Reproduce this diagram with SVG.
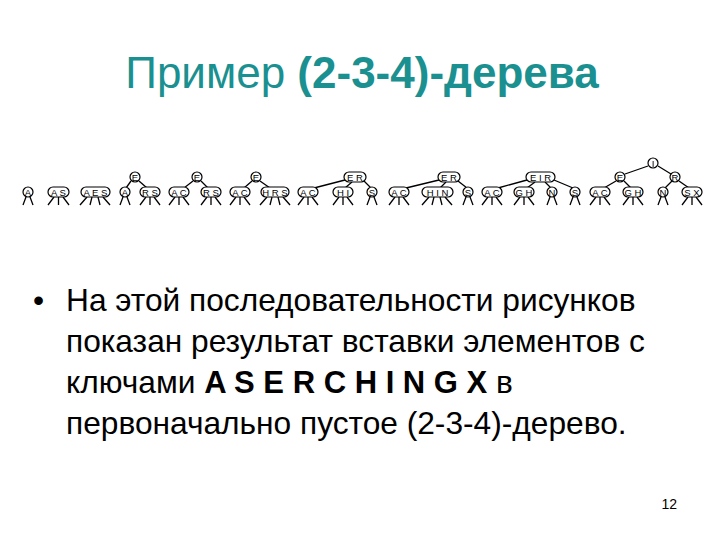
<svg xmlns="http://www.w3.org/2000/svg" width="720" height="540" viewBox="0 0 720 540">
<style>
.n{fill:#fff;stroke:#000;stroke-width:1.2}
.k{font-family:"Liberation Sans",Arial,sans-serif;font-size:9.5px;text-anchor:middle;fill:#000}
.c line{stroke:#000;stroke-width:1.3}
.t{font-family:"Liberation Sans",Arial,sans-serif;fill:#000}
</style>
<rect width="720" height="540" fill="#fff"/>
<text x="362" y="88" class="t" font-size="44" text-anchor="middle" style="fill:#1a9090">Пример <tspan font-weight="bold">(2-3-4)-дерева</tspan></text>

<g class="c" id="connectors">
<!-- tree4 -->
<line x1="131" y1="181" x2="126" y2="188"/><line x1="139" y1="181" x2="147" y2="188"/>
<!-- tree5 -->
<line x1="193" y1="181" x2="184" y2="188"/><line x1="201" y1="181" x2="208" y2="188"/>
<!-- tree6 -->
<line x1="252" y1="181" x2="244" y2="188"/><line x1="260" y1="181" x2="270" y2="188"/>
<!-- tree7 -->
<line x1="345" y1="180" x2="314" y2="188"/><line x1="352" y1="182" x2="345" y2="188"/><line x1="364" y1="181" x2="371" y2="188"/>
<!-- tree8 -->
<line x1="439" y1="180" x2="406" y2="188"/><line x1="446" y1="182" x2="440" y2="188"/><line x1="458" y1="181" x2="467" y2="188"/>
<!-- tree9 -->
<line x1="527" y1="180" x2="498" y2="188"/><line x1="535" y1="182" x2="527" y2="188"/><line x1="545" y1="182" x2="551" y2="188"/><line x1="554" y1="180" x2="573" y2="188"/>
<!-- tree10 -->
<line x1="648" y1="166" x2="625" y2="174"/><line x1="658" y1="166" x2="671" y2="174"/>
<line x1="616" y1="181" x2="604" y2="188"/><line x1="624" y1="181" x2="631" y2="188"/>
<line x1="672" y1="181" x2="665" y2="188"/><line x1="679" y1="181" x2="689" y2="188"/>
<!-- leaf legs -->
<g id="legs">
<line x1="26" y1="197" x2="23" y2="205"/><line x1="30" y1="197" x2="33" y2="205"/>
<line x1="54" y1="197" x2="48" y2="205"/><line x1="58.5" y1="197" x2="58.5" y2="205"/><line x1="63" y1="197" x2="69" y2="205"/>
<line x1="87" y1="197" x2="80" y2="205"/><line x1="92" y1="197" x2="90" y2="205"/><line x1="98" y1="197" x2="100" y2="205"/><line x1="103" y1="197" x2="110" y2="205"/>
<line x1="123" y1="197" x2="120" y2="205"/><line x1="127" y1="197" x2="130" y2="205"/>
<line x1="146" y1="197" x2="140" y2="205"/><line x1="150" y1="197" x2="150" y2="205"/><line x1="154" y1="197" x2="160" y2="205"/>
<line x1="175" y1="197" x2="169" y2="205"/><line x1="179" y1="197" x2="179" y2="205"/><line x1="183" y1="197" x2="189" y2="205"/>
<line x1="207" y1="197" x2="201" y2="205"/><line x1="211" y1="197" x2="211" y2="205"/><line x1="215" y1="197" x2="221" y2="205"/>
<line x1="236" y1="197" x2="230" y2="205"/><line x1="240" y1="197" x2="240" y2="205"/><line x1="244" y1="197" x2="250" y2="205"/>
<line x1="267" y1="197" x2="260" y2="205"/><line x1="272" y1="197" x2="270" y2="205"/><line x1="278" y1="197" x2="280" y2="205"/><line x1="283" y1="197" x2="290" y2="205"/>
<line x1="304" y1="197" x2="298" y2="205"/><line x1="308" y1="197" x2="308" y2="205"/><line x1="312" y1="197" x2="318" y2="205"/>
<line x1="339" y1="197" x2="333" y2="205"/><line x1="343" y1="197" x2="343" y2="205"/><line x1="347" y1="197" x2="353" y2="205"/>
<line x1="370" y1="197" x2="367" y2="205"/><line x1="374" y1="197" x2="377" y2="205"/>
<line x1="395" y1="197" x2="389" y2="205"/><line x1="399" y1="197" x2="399" y2="205"/><line x1="403" y1="197" x2="409" y2="205"/>
<line x1="429" y1="197" x2="422" y2="205"/><line x1="434" y1="197" x2="432" y2="205"/><line x1="440" y1="197" x2="442" y2="205"/><line x1="445" y1="197" x2="452" y2="205"/>
<line x1="466" y1="197" x2="463" y2="205"/><line x1="470" y1="197" x2="473" y2="205"/>
<line x1="488" y1="197" x2="482" y2="205"/><line x1="492" y1="197" x2="492" y2="205"/><line x1="496" y1="197" x2="502" y2="205"/>
<line x1="520" y1="197" x2="514" y2="205"/><line x1="524" y1="197" x2="524" y2="205"/><line x1="528" y1="197" x2="534" y2="205"/>
<line x1="550" y1="197" x2="547" y2="205"/><line x1="554" y1="197" x2="557" y2="205"/>
<line x1="573" y1="197" x2="570" y2="205"/><line x1="577" y1="197" x2="580" y2="205"/>
<line x1="596" y1="197" x2="590" y2="205"/><line x1="600" y1="197" x2="600" y2="205"/><line x1="604" y1="197" x2="610" y2="205"/>
<line x1="629" y1="197" x2="623" y2="205"/><line x1="633" y1="197" x2="633" y2="205"/><line x1="637" y1="197" x2="643" y2="205"/>
<line x1="661" y1="197" x2="658" y2="205"/><line x1="665" y1="197" x2="668" y2="205"/>
<line x1="688" y1="197" x2="682" y2="205"/><line x1="692" y1="197" x2="692" y2="205"/><line x1="696" y1="197" x2="702" y2="205"/>
</g>
</g>

<!-- tree 1 -->
<g id="t1-A"><ellipse class="n" cx="28" cy="192" rx="5" ry="5"/><text class="k" x="28" y="195.5">A</text></g>
<!-- tree 2 -->
<g id="t2-AS"><rect class="n" x="48" y="187" width="21" height="10" rx="5"/><text class="k" x="58.5" y="195.5">A S</text></g>
<!-- tree 3 -->
<g id="t3-AES"><rect class="n" x="81" y="187" width="29" height="10" rx="5"/><text class="k" x="95.5" y="195.5">A E S</text></g>
<!-- tree 4 -->
<g id="t4-E"><ellipse class="n" cx="135" cy="177" rx="5" ry="5"/><text class="k" x="135" y="180.5">E</text></g>
<g id="t4-A"><ellipse class="n" cx="125" cy="192" rx="5" ry="5"/><text class="k" x="125" y="195.5">A</text></g>
<g id="t4-RS"><rect class="n" x="140" y="187" width="20" height="10" rx="5"/><text class="k" x="150" y="195.5">R S</text></g>
<!-- tree 5 -->
<g id="t5-E"><ellipse class="n" cx="197" cy="177" rx="5" ry="5"/><text class="k" x="197" y="180.5">E</text></g>
<g id="t5-AC"><rect class="n" x="169" y="187" width="20" height="10" rx="5"/><text class="k" x="179" y="195.5">A C</text></g>
<g id="t5-RS"><rect class="n" x="201" y="187" width="20" height="10" rx="5"/><text class="k" x="211" y="195.5">R S</text></g>
<!-- tree 6 -->
<g id="t6-E"><ellipse class="n" cx="256" cy="177" rx="5" ry="5"/><text class="k" x="256" y="180.5">E</text></g>
<g id="t6-AC"><rect class="n" x="230" y="187" width="20" height="10" rx="5"/><text class="k" x="240" y="195.5">A C</text></g>
<g id="t6-HRS"><rect class="n" x="261" y="187" width="28" height="10" rx="5"/><text class="k" x="275" y="195.5">H R S</text></g>
<!-- tree 7 -->
<g id="t7-ER"><rect class="n" x="344" y="172" width="22" height="10" rx="5"/><text class="k" x="355" y="180.5">E R</text></g>
<g id="t7-AC"><rect class="n" x="298" y="187" width="20" height="10" rx="5"/><text class="k" x="308" y="195.5">A C</text></g>
<g id="t7-HI"><rect class="n" x="333" y="187" width="20" height="10" rx="5"/><text class="k" x="343" y="195.5">H I</text></g>
<g id="t7-S"><ellipse class="n" cx="372" cy="192" rx="5" ry="5"/><text class="k" x="372" y="195.5">S</text></g>
<!-- tree 8 -->
<g id="t8-ER"><rect class="n" x="438" y="172" width="22" height="10" rx="5"/><text class="k" x="449" y="180.5">E R</text></g>
<g id="t8-AC"><rect class="n" x="389" y="187" width="20" height="10" rx="5"/><text class="k" x="399" y="195.5">A C</text></g>
<g id="t8-HIN"><rect class="n" x="422" y="187" width="31" height="10" rx="5"/><text class="k" x="437.5" y="195.5">H I N</text></g>
<g id="t8-S"><ellipse class="n" cx="468" cy="192" rx="5" ry="5"/><text class="k" x="468" y="195.5">S</text></g>
<!-- tree 9 -->
<g id="t9-EIR"><rect class="n" x="526" y="172" width="29" height="10" rx="5"/><text class="k" x="540.5" y="180.5">E I R</text></g>
<g id="t9-AC"><rect class="n" x="482" y="187" width="20" height="10" rx="5"/><text class="k" x="492" y="195.5">A C</text></g>
<g id="t9-GH"><rect class="n" x="514" y="187" width="20" height="10" rx="5"/><text class="k" x="524" y="195.5">G H</text></g>
<g id="t9-N"><ellipse class="n" cx="552" cy="192" rx="5" ry="5"/><text class="k" x="552" y="195.5">N</text></g>
<g id="t9-S"><ellipse class="n" cx="575" cy="192" rx="5" ry="5"/><text class="k" x="575" y="195.5">S</text></g>
<!-- tree 10 -->
<g id="t10-I"><ellipse class="n" cx="653" cy="163" rx="5" ry="5"/><text class="k" x="653" y="166.5">I</text></g>
<g id="t10-E"><ellipse class="n" cx="620" cy="177" rx="5" ry="5"/><text class="k" x="620" y="180.5">E</text></g>
<g id="t10-R"><ellipse class="n" cx="675" cy="177" rx="5" ry="5"/><text class="k" x="675" y="180.5">R</text></g>
<g id="t10-AC"><rect class="n" x="590" y="187" width="20" height="10" rx="5"/><text class="k" x="600" y="195.5">A C</text></g>
<g id="t10-GH"><rect class="n" x="623" y="187" width="20" height="10" rx="5"/><text class="k" x="633" y="195.5">G H</text></g>
<g id="t10-N"><ellipse class="n" cx="663" cy="192" rx="5" ry="5"/><text class="k" x="663" y="195.5">N</text></g>
<g id="t10-SX"><rect class="n" x="682" y="187" width="20" height="10" rx="5"/><text class="k" x="692" y="195.5">S X</text></g>

<g id="body" class="t" font-size="31.7">
<text x="33" y="311">•</text>
<text x="66" y="311">На этой последовательности рисунков</text>
<text x="66" y="352">показан результат вставки элементов с</text>
<text x="66" y="393">ключами <tspan font-weight="bold" font-size="31">A S E R C H I N G X</tspan> в</text>
<text x="66" y="434">первоначально пустое (2-3-4)-дерево.</text>
</g>
<text x="677" y="509" class="t" font-size="14" text-anchor="end">12</text>
</svg>
